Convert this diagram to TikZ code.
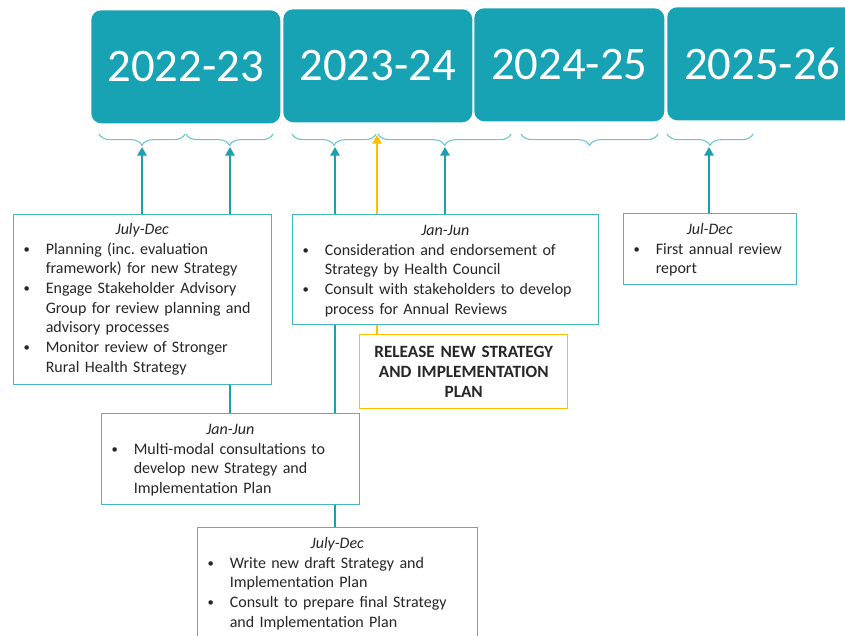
\documentclass[tikz,border=0pt]{standalone}
\usepackage{fontspec}
\setmainfont{Carlito}
\frenchspacing
\usetikzlibrary{arrows.meta,decorations.pathreplacing,backgrounds}
\definecolor{tealfill}{HTML}{17A3B4}
\definecolor{tealline}{HTML}{1C9FB0}
\definecolor{tealbox}{HTML}{45B6C4}
\definecolor{tealbrace}{HTML}{6CC4D0}
\definecolor{goldc}{HTML}{FFC000}
\definecolor{txtc}{HTML}{262626}
\newcommand\itm{\par\hangindent=24.4pt\hangafter=1\noindent\hbox to 24.4pt{\hspace{10.1pt}\makebox[0pt]{\raisebox{0.6pt}{\fontsize{9.5}{9.5}\selectfont\textbullet}}\hfil}}
\newcommand\hdr[1]{{\centering\rule{0pt}{12pt}\itshape #1\par}}
\begin{document}
\begin{tikzpicture}[x=0.75pt,y=-0.75pt,
  yrbox/.style={fill=tealfill, rounded corners=7.5pt, anchor=north west, inner sep=0pt,
     text=white, font=\fontsize{35}{42}\selectfont},
  card/.style={draw=tealbox, line width=1.1pt, fill=white, anchor=north west, inner sep=0pt},
  goldcard/.style={draw=goldc, line width=1.1pt, fill=white, anchor=north west, inner sep=0pt,
     align=center, font=\fontsize{12.9}{14.8}\selectfont\bfseries, text=txtc},
  cardtext/.style={anchor=north west, inner sep=0pt, text=txtc,
     font=\fontsize{12}{14.8}\selectfont\frenchspacing},
  brc/.style={draw=tealbrace, line width=0.8pt,
     decorate, decoration={brace, mirror, amplitude=8.5pt}},
  arr/.style={draw=tealline, line width=1.5pt, -{Triangle[length=6.5pt,width=7pt]}},
  garr/.style={draw=goldc, line width=1.5pt, -{Triangle[length=6.5pt,width=7pt]}},
  conn/.style={draw=tealline, line width=1.5pt}]
\useasboundingbox (0,0) rectangle (845,635);
\clip (0,0) rectangle (845,635);

% year headers
\node[yrbox, minimum width={189*0.75pt}, minimum height={113*0.75pt}] (y1) at (91,10) {2022-23};
\node[yrbox, minimum width={189*0.75pt}, minimum height={113*0.75pt}] (y2) at (283,9) {2023-24};
\node[yrbox, minimum width={190*0.75pt}, minimum height={113*0.75pt}] (y3) at (474,8) {2024-25};
\node[yrbox, minimum width={190*0.75pt}, minimum height={113*0.75pt}] (y4) at (667,7) {2025-26};

% braces
\draw[brc] (99,134) -- (185,134);
\draw[brc] (186,134) -- (273,134);
\draw[brc] (292,134) -- (376,134);
\draw[brc] (378,134) -- (511,134);
\draw[brc] (521,134) -- (658,134);
\draw[brc] (667,134) -- (753,134);

\coordinate (t1) at (142,147);
\coordinate (t2) at (230,147);
\coordinate (t3) at (335,147);
\coordinate (ty) at (377,135);
\coordinate (t4) at (445,147);
\coordinate (t6) at (709,147);

% cards
\node[card, minimum width={258*0.75pt}, minimum height={170*0.75pt}] (b1) at (13,214) {};
\node[card, minimum width={306*0.75pt}, minimum height={110*0.75pt}] (b2) at (292,214) {};
\node[card, minimum width={173*0.75pt}, minimum height={71*0.75pt}] (b3) at (623,213) {};
\node[goldcard, minimum width={208*0.75pt}, minimum height={74*0.75pt}, text width={208*0.75pt}] (rel) at (359,334)
  {RELEASE NEW STRATEGY\\AND IMPLEMENTATION\\PLAN};
\node[card, minimum width={258*0.75pt}, minimum height={91*0.75pt}] (b5) at (101,413) {};
\node[card, minimum width={280*0.75pt}, minimum height={130*0.75pt}] (b6) at (197,527) {};

% card texts
\node[cardtext, text width={258*0.75pt}] (b1t) at (13,218) {\raggedright
  \hdr{July-Dec}%
  \itm Planning (inc. evaluation\newline framework) for new Strategy
  \itm Engage Stakeholder Advisory\newline Group for review planning and\newline advisory processes
  \itm Monitor review of Stronger\newline Rural Health Strategy\par};
\node[cardtext, text width={306*0.75pt}] (b2t) at (292,219) {\raggedright
  \hdr{Jan-Jun}%
  \itm Consideration and endorsement of\newline Strategy by Health Council
  \itm Consult with stakeholders to develop\newline process for Annual Reviews\par};
\node[cardtext, text width={173*0.75pt}] (b3t) at (623,218) {\raggedright
  \hdr{Jul-Dec}%
  \itm First annual review\newline report\par};
\node[cardtext, text width={258*0.75pt}] (b5t) at (101,418) {\raggedright
  \hdr{Jan-Jun}%
  \itm Multi-modal consultations to\newline develop new Strategy and\newline Implementation Plan\par};
\node[cardtext, text width={280*0.75pt}] (b6t) at (197,532) {\raggedright
  \hdr{July-Dec}%
  \itm Write new draft Strategy and\newline Implementation Plan
  \itm Consult to prepare final Strategy\newline and Implementation Plan\par};

% connectors
\begin{scope}[on background layer]
  \draw[arr] (t1 |- b1.north) -- (t1);
  \draw[arr] (t2 |- b5.north) -- (t2);
  \draw[arr] (t3 |- b6.north) -- (t3);
  \draw[garr] (ty |- rel.north) -- (ty);
  \draw[arr] (t4 |- b2.north) -- (t4);
  \draw[arr] (t6 |- b3.north) -- (t6);
\end{scope}
\end{tikzpicture}
\end{document}
